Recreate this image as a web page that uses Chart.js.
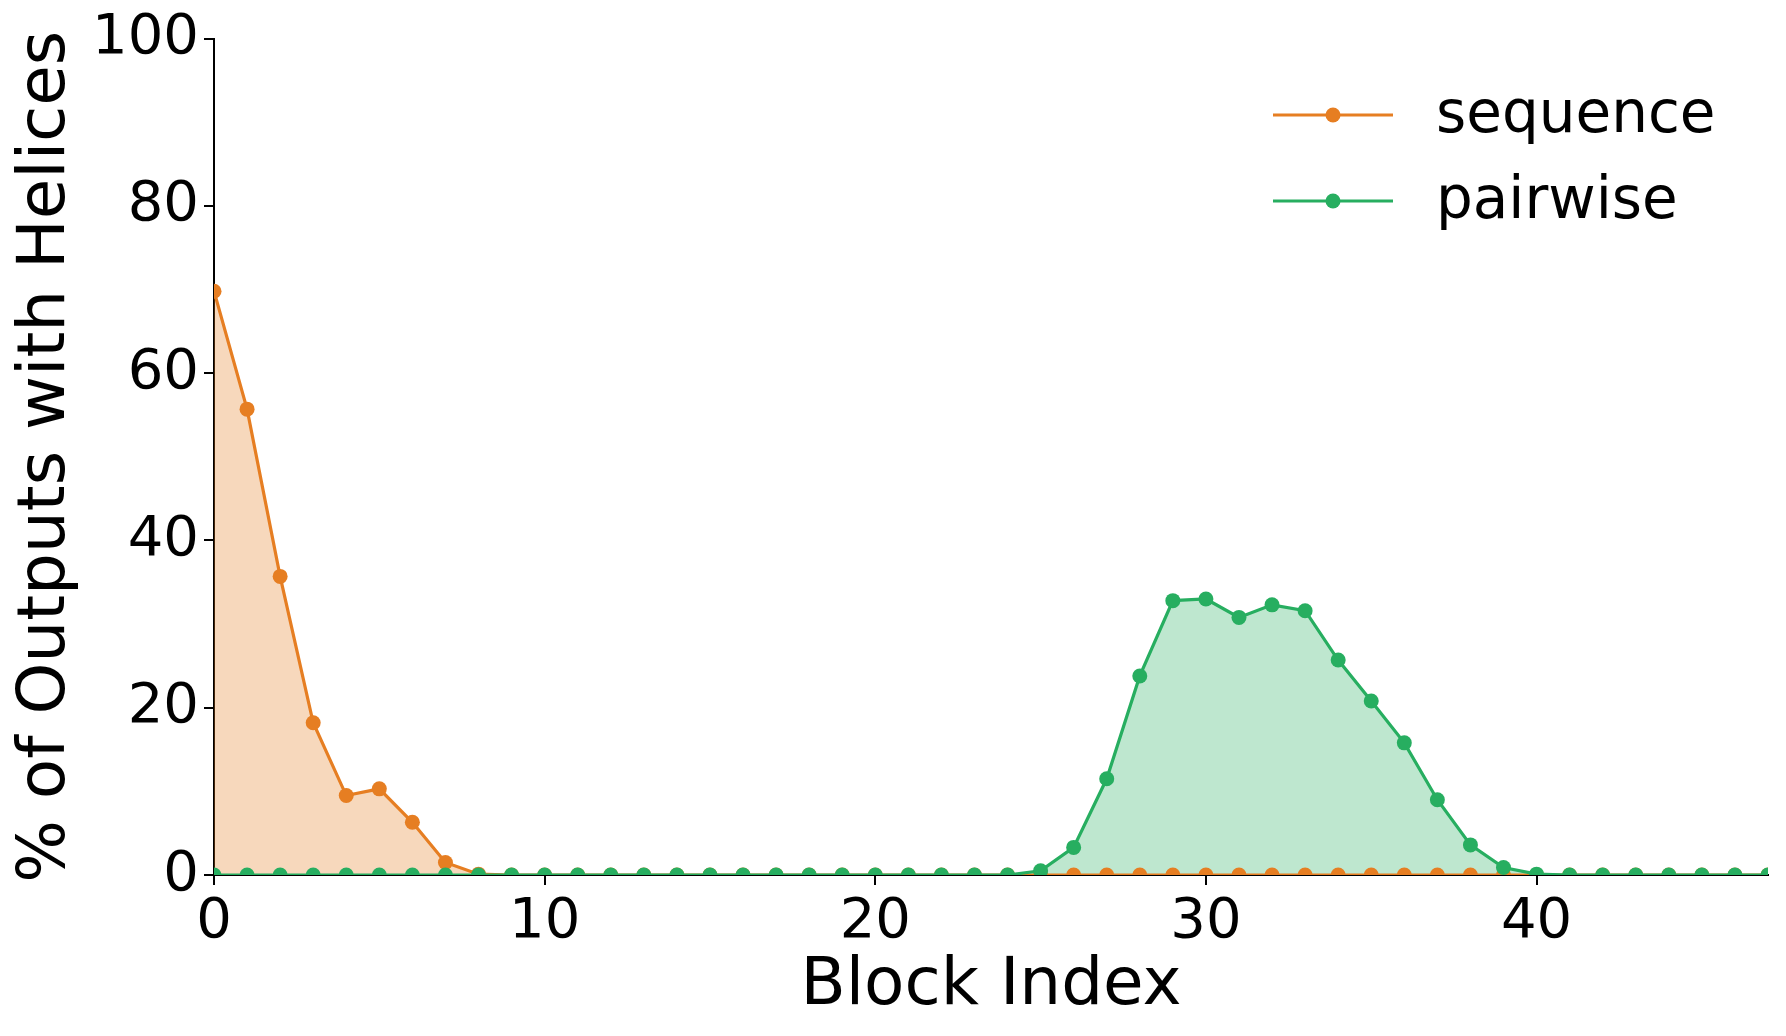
<!DOCTYPE html>
<html lang="en">
<head>
    <meta charset="UTF-8">
    <title>Helices per block</title>
    <style>
        body{
            margin: 0;
            background: #fff;
        }
        .chart{
            position: relative;
            width: 1786px;
            height: 1036px;
        }
    </style>
</head>
<body>
    <div class="chart">
        <canvas id="myChart" width="1786" height="1036"></canvas>
    </div>
    <script src="https://cdn.jsdelivr.net/npm/chart.js@4.4.1/dist/chart.umd.min.js"></script>
    <script>
const blockIndex = [0, 1, 2, 3, 4, 5, 6, 7, 8, 9, 10, 11, 12, 13, 14, 15, 16, 17, 18, 19, 20, 21, 22, 23,
    24, 25, 26, 27, 28, 29, 30, 31, 32, 33, 34, 35, 36, 37, 38, 39, 40, 41, 42, 43, 44, 45, 46, 47];

const sequence = [69.8, 55.7, 35.7, 18.2, 9.5, 10.3, 6.3, 1.5, 0.1, 0, 0, 0, 0, 0, 0, 0, 0, 0, 0, 0, 0, 0, 0, 0,
    0, 0, 0, 0, 0, 0, 0, 0, 0, 0, 0, 0, 0, 0, 0, 0, 0, 0, 0, 0, 0, 0, 0, 0];

const pairwise = [0, 0, 0, 0, 0, 0, 0, 0, 0, 0, 0, 0, 0, 0, 0, 0, 0, 0, 0, 0, 0, 0, 0, 0,
    0, 0.5, 3.3, 11.5, 23.8, 32.8, 33.0, 30.8, 32.3, 31.6, 25.7, 20.8, 15.8, 9.0, 3.6, 0.9, 0.1, 0, 0, 0, 0, 0, 0, 0];

const xTicks = [0, 10, 20, 30, 40];
const yTicks = [0, 20, 40, 60, 80, 100];

const orange = "#e67e22";
const green = "#27ae60";
const font = "'DejaVu Sans', sans-serif";

const ctx = document.getElementById('myChart').getContext("2d");

// legend like matplotlib: short line with a dot in the middle
const lineLegend = {
    id: "lineLegend",
    afterDraw(chart) {
        const c = chart.ctx;
        const right = chart.chartArea.right;
        chart.data.datasets.forEach((ds, i) => {
            const y = 115 + i * 86;
            const x0 = right - 495;
            c.save();
            c.strokeStyle = ds.borderColor;
            c.lineWidth = 3;
            c.beginPath();
            c.moveTo(x0, y);
            c.lineTo(x0 + 120, y);
            c.stroke();
            c.fillStyle = ds.borderColor;
            c.beginPath();
            c.arc(x0 + 60, y, 7.5, 0, Math.PI * 2);
            c.fill();
            c.fillStyle = "#000";
            c.font = "58px " + font;
            c.textBaseline = "middle";
            c.fillText(ds.label, x0 + 163, y + 2);
            c.restore();
        });
    }
};

const data = {
    datasets: [
        {
            label: "sequence",
            data: blockIndex.map((b, i) => ({x: b, y: sequence[i]})),
            borderColor: orange,
            backgroundColor: "rgba(230,126,34,0.3)",
            pointBackgroundColor: orange,
            fill: "origin",
            order: 2,
        },
        {
            label: "pairwise",
            data: blockIndex.map((b, i) => ({x: b, y: pairwise[i]})),
            borderColor: green,
            backgroundColor: "rgba(39,174,96,0.3)",
            pointBackgroundColor: green,
            fill: "origin",
            order: 1,
        },
    ],
};

const config = {
    type: "line",
    data: data,
    plugins: [lineLegend],
    options: {
        responsive: false,
        animation: false,
        layout: {
            padding: {top: 36, right: 18, left: 0, bottom: 0}
        },
        elements: {
            line: {borderWidth: 3.2, tension: 0},
            point: {radius: 7.5, borderWidth: 0, hoverRadius: 7.5},
        },
        datasets: {
            line: {clip: 0}
        },
        plugins: {
            legend: {display: false},
            tooltip: {enabled: false},
            filler: {drawTime: "beforeDatasetsDraw"},
        },
        scales: {
            x: {
                type: "linear",
                min: 0,
                max: 47,
                afterBuildTicks: (s) => { s.ticks = xTicks.map(v => ({value: v})); },
                afterFit: (s) => { s.height = 161; },
                grid: {display: true, drawOnChartArea: false, drawTicks: true, tickLength: 10, color: "#000", lineWidth: 2},
                border: {display: true, color: "#000", width: 2},
                ticks: {color: "#000", font: {family: font, size: 56}, padding: 4, maxRotation: 0},
                title: {display: true, text: "Block Index", color: "#000", font: {family: font, size: 66}, padding: {top: 0, bottom: 10}},
            },
            y: {
                min: 0,
                max: 100,
                afterBuildTicks: (s) => { s.ticks = yTicks.map(v => ({value: v})); },
                afterFit: (s) => { s.width = 214; },
                grid: {display: true, drawOnChartArea: false, drawTicks: true, tickLength: 10, color: "#000", lineWidth: 2},
                border: {display: true, color: "#000", width: 2},
                ticks: {color: "#000", font: {family: font, size: 56}, padding: 5},
                title: {display: true, text: "% of Outputs with Helices", color: "#000", font: {family: font, size: 66}, padding: {top: 7, bottom: 0}},
            }
        }
    },
};

const myChart = new Chart(ctx, config);
    </script>
</body>
</html>
